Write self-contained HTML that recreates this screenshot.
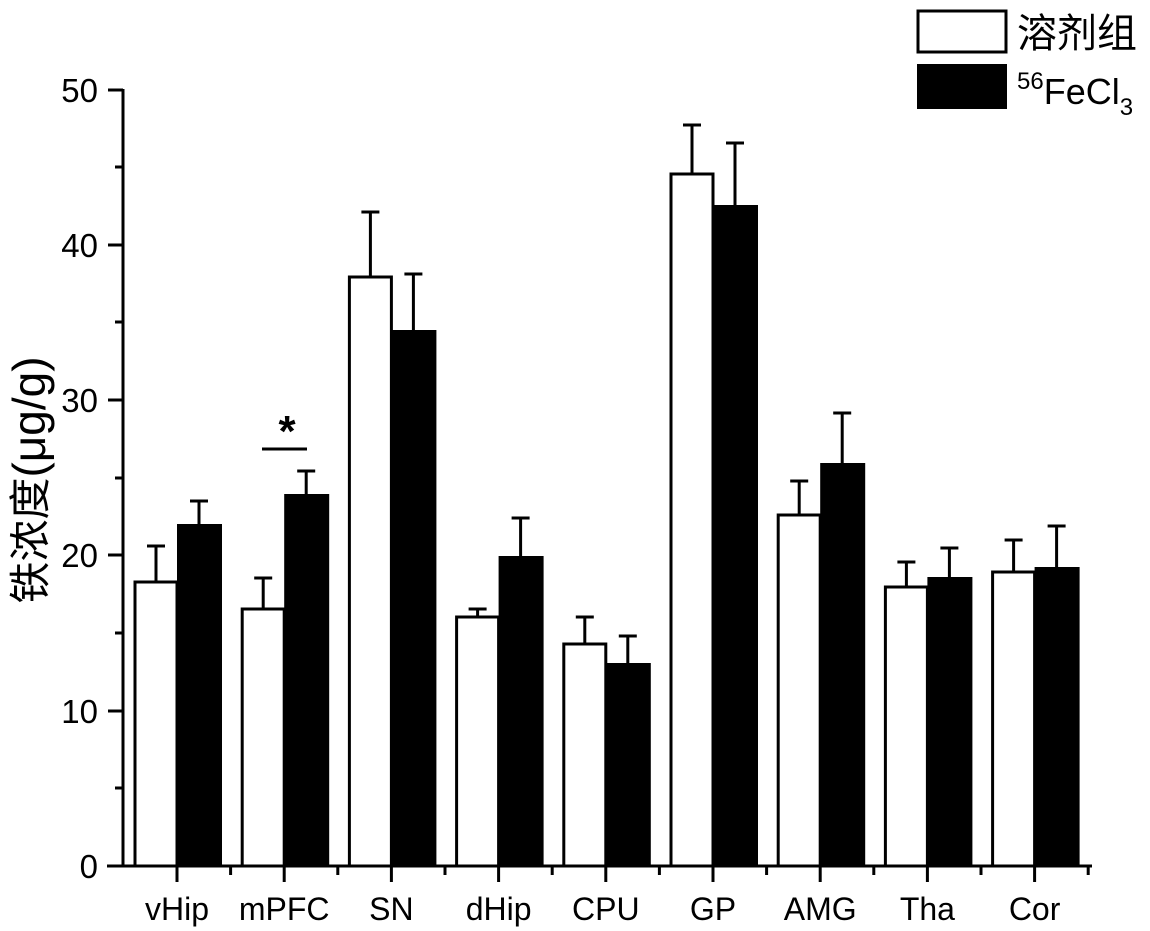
<!DOCTYPE html>
<html><head><meta charset="utf-8"><style>html,body{margin:0;padding:0;background:#fff}svg{display:block}</style></head>
<body>
<svg width="1150" height="931" viewBox="0 0 1150 931" xmlns="http://www.w3.org/2000/svg" font-family="Liberation Sans, Noto Sans CJK SC, sans-serif">
<rect width="1150" height="931" fill="#fff"/>
<g id="bars" stroke="#000" stroke-width="3"></g>
<line x1="123" y1="89" x2="123" y2="867" stroke="#000" stroke-width="3"/>
<line x1="107" y1="866" x2="1092" y2="866" stroke="#000" stroke-width="3"/>
<g stroke="#000" stroke-width="3">
<line x1="108" y1="90" x2="123" y2="90"/><line x1="108" y1="245" x2="123" y2="245"/><line x1="108" y1="400" x2="123" y2="400"/><line x1="108" y1="555" x2="123" y2="555"/><line x1="108" y1="711" x2="123" y2="711"/>
<line x1="115" y1="167" x2="123" y2="167"/><line x1="115" y1="322" x2="123" y2="322"/><line x1="115" y1="478" x2="123" y2="478"/><line x1="115" y1="633" x2="123" y2="633"/><line x1="115" y1="788" x2="123" y2="788"/>
</g>
<g font-size="33" text-anchor="end" fill="#000">
<text x="98" y="102">50</text><text x="98" y="257">40</text><text x="98" y="412">30</text><text x="98" y="567">20</text><text x="98" y="723">10</text><text x="98" y="878">0</text>
</g>
<text transform="translate(45,480) rotate(-90)" font-size="42" text-anchor="middle"><tspan>铁浓度</tspan><tspan font-size="46">(μg/g)</tspan></text>
<g id="xt" stroke="#000" stroke-width="3"></g>
<g font-size="32" text-anchor="middle" id="xl"></g>
<line x1="262" y1="449" x2="307" y2="449" stroke="#000" stroke-width="3"/>
<text x="287" y="446" font-size="44" font-weight="bold" text-anchor="middle">*</text>
<rect x="918" y="11" width="88" height="41" fill="#fff" stroke="#000" stroke-width="3"/>
<rect x="917" y="64" width="90" height="45" fill="#000"/>
<text x="1017" y="47" font-size="40">溶剂组</text>
<text x="1017" y="104" font-size="36"><tspan font-size="24" dy="-15">56</tspan><tspan dy="15">FeCl</tspan><tspan font-size="24" dy="11">3</tspan></text>
<script>
var names=["vHip","mPFC","SN","dHip","CPU","GP","AMG","Tha","Cor"];
var d=[[582,546,524,501],[609,578,494,471],[277,212,330,274],[617,609,556,518],[644,617,663,636],[174,125,205,143],[515,481,463,413],[587,562,577,548],[572,540,567,526]];
var ns="http://www.w3.org/2000/svg",b=document.getElementById("bars"),xt=document.getElementById("xt"),xl=document.getElementById("xl");
function el(p,t,a){var e=document.createElementNS(ns,t);for(var k in a)e.setAttribute(k,a[k]);p.appendChild(e);return e;}
for(var i=0;i<9;i++){var c=177+i*107.2,v=d[i];
el(b,"rect",{x:c-42,y:v[0],width:42,height:866-v[0],fill:"#fff"});
el(b,"line",{x1:c-21,y1:v[0],x2:c-21,y2:v[1]});
el(b,"line",{x1:c-30,y1:v[1],x2:c-12,y2:v[1]});
el(b,"rect",{x:c,y:v[2],width:45,height:866-v[2],fill:"#000",stroke:"none"});
el(b,"line",{x1:c+22,y1:v[2],x2:c+22,y2:v[3]});
el(b,"line",{x1:c+13,y1:v[3],x2:c+31,y2:v[3]});
el(xt,"line",{x1:c,y1:866,x2:c,y2:882});
el(xt,"line",{x1:c+53.6,y1:866,x2:c+53.6,y2:875});
var t=el(xl,"text",{x:c,y:920});t.textContent=names[i];}
</script>
</svg>
</body></html>
